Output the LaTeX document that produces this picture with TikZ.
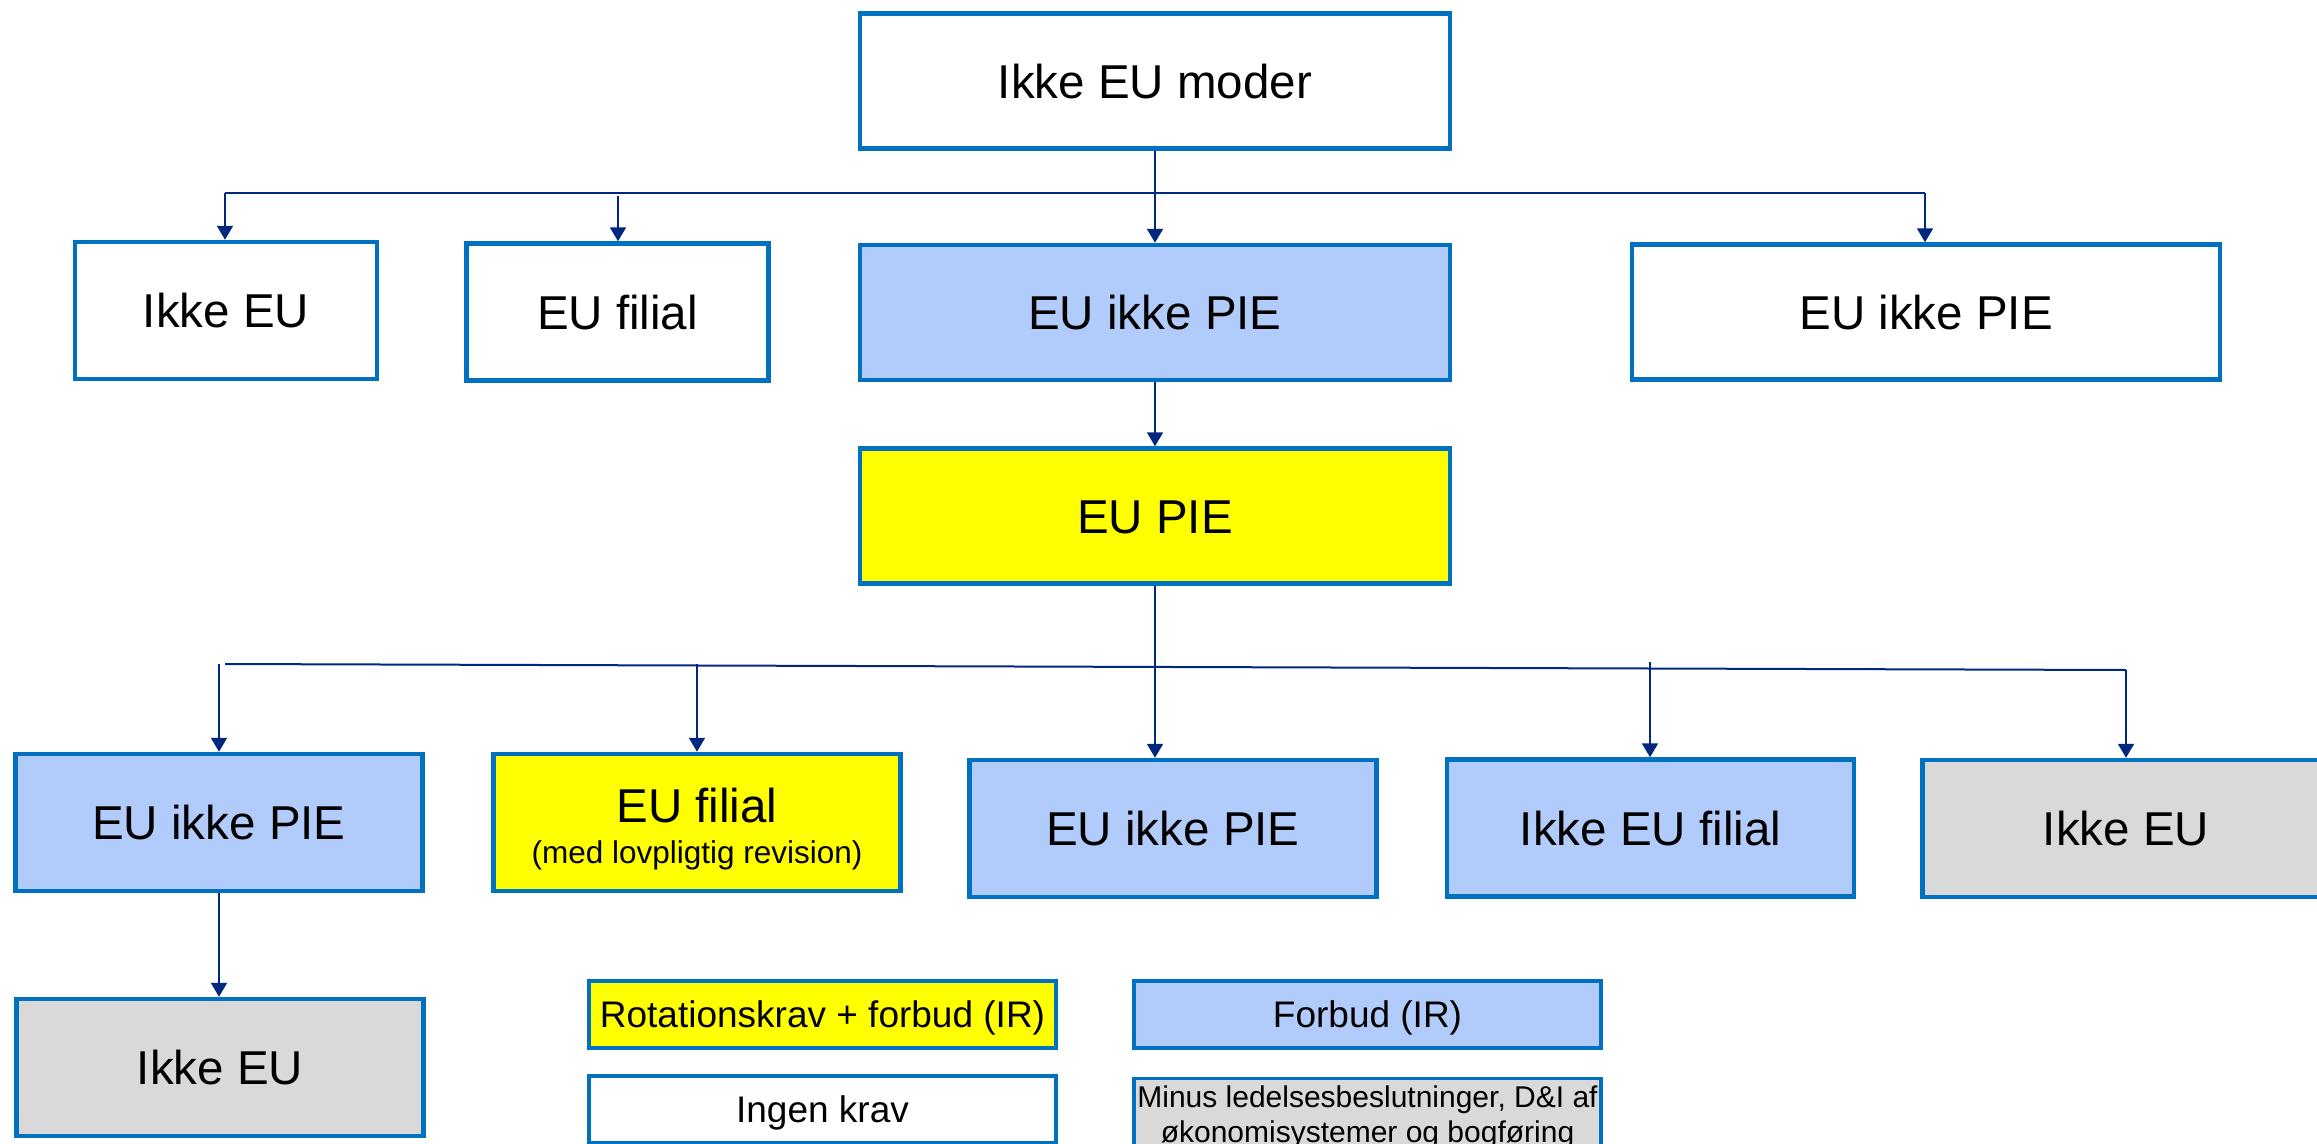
\documentclass[tikz,border=0pt]{standalone}
\usepackage{fontspec}
\setmainfont{Liberation Sans}
\usetikzlibrary{arrows.meta}
\definecolor{bord}{HTML}{0070C0}
\definecolor{lblue}{HTML}{B1CBFB}
\definecolor{lgrey}{HTML}{D9D9D9}
\definecolor{yel}{HTML}{FFFF00}
\definecolor{navy}{HTML}{00287F}
\begin{document}
\begin{tikzpicture}[x=1pt,y=-1pt,
 box/.style={draw=bord, line width=4.5pt, rectangle, inner sep=0pt, font=\fontsize{47.5}{57}\selectfont, text height=34pt, text depth=0pt},
 bigbox/.style={box, minimum width=590pt, minimum height=135pt},
 smallbox/.style={box, minimum width=302pt, minimum height=137pt},
 midbox/.style={box, minimum width=407pt, minimum height=137pt},
 legbox/.style={draw=bord, line width=3.5pt, rectangle, inner sep=0pt, minimum width=467pt, minimum height=67pt, font=\fontsize{37}{44}\selectfont, text height=26.5pt, text depth=0pt},
 conn/.style={draw=navy, line width=2pt},
 arr/.style={conn, -{Triangle[width=16pt,length=14pt]}}
]
\path[fill=white] (0,0) rectangle (2317,1143);
\useasboundingbox (0,0) rectangle (2317,1143);
\clip (0,0) rectangle (2317,1143);

% boxes
\node[bigbox, fill=white] (moder) at (1155,81) {Ikke EU moder};
\node[smallbox, fill=white] (r2a) at (226,310.5) {Ikke EU};
\node[smallbox, fill=white] (r2b) at (617.5,312) {EU filial};
\node[bigbox, fill=lblue] (r2c) at (1155,312.5) {EU ikke PIE};
\node[bigbox, fill=white, minimum width=588pt] (r2d) at (1926,312) {EU ikke PIE};
\node[bigbox, fill=yel] (pie) at (1155,516) {EU PIE};

\node[midbox, fill=lblue] (r3a) at (219,822.5) {EU ikke PIE};
\node[midbox, fill=yel] (r3b) at (697,822.5) {};
\node[font=\fontsize{47.5}{57}\selectfont, anchor=base, inner sep=0pt] (r3bt1) at (697,822) {EU filial};
\node[font=\fontsize{31.5}{38}\selectfont, anchor=base, inner sep=0pt] (r3bt2) at (697,863) {(med lovpligtig revision)};
\node[midbox, fill=lblue] (r3c) at (1173,828.5) {EU ikke PIE};
\node[midbox, fill=lblue] (r3d) at (1650.5,828) {Ikke EU filial};
\node[midbox, fill=lgrey] (r3e) at (2126,828.5) {Ikke EU};
\node[midbox, fill=lgrey] (r4a) at (220,1067.5) {Ikke EU};

% legend
\node[legbox, fill=yel] (lg1) at (822.5,1014.5) {Rotationskrav + forbud (IR)};
\node[legbox, fill=lblue] (lg2) at (1367.5,1014.5) {Forbud (IR)};
\node[legbox, fill=white] (lg3) at (822.5,1109.5) {Ingen krav};
\node[legbox, fill=lgrey] (lg4) at (1367.5,1112) {};
\node[font=\fontsize{30}{36}\selectfont, anchor=base, inner sep=0pt] (lg4t1) at (1367.5,1107) {Minus ledelsesbeslutninger, D\&I af};
\node[font=\fontsize{30}{36}\selectfont, anchor=base, inner sep=0pt] (lg4t2) at (1367.5,1142) {økonomisystemer og bogføring};

% upper connectors
\coordinate (b1L) at (225,193);
\coordinate (b1R) at (1925,193);
\coordinate (t2b) at (618,196);
\draw[conn] (b1L) -- (b1R);
\draw[arr] (moder.south) -- (r2c.north);
\draw[arr] (b1L) -- (b1L |- r2a.north);
\draw[arr] (t2b) -- (t2b |- r2b.north);
\draw[arr] (b1R) -- (b1R |- r2d.north);
\draw[arr] (r2c.south) -- (pie.north);

% lower connectors
\coordinate (b2L) at (225,664);
\coordinate (b2R) at (2126,670);
\coordinate (t3a) at (219,664);
\coordinate (t3b) at (697,664);
\coordinate (t3d) at (1650,662);
\draw[conn] (b2L) -- (b2R);
\draw[arr] (t3a) -- (t3a |- r3a.north);
\draw[arr] (t3b) -- (t3b |- r3b.north);
\draw[arr] (pie.south) -- (pie.south |- r3c.north);
\draw[arr] (t3d) -- (t3d |- r3d.north);
\draw[arr] (b2R) -- (b2R |- r3e.north);
\draw[arr] (r3a.south) -- (r3a.south |- r4a.north);
\end{tikzpicture}
\end{document}
